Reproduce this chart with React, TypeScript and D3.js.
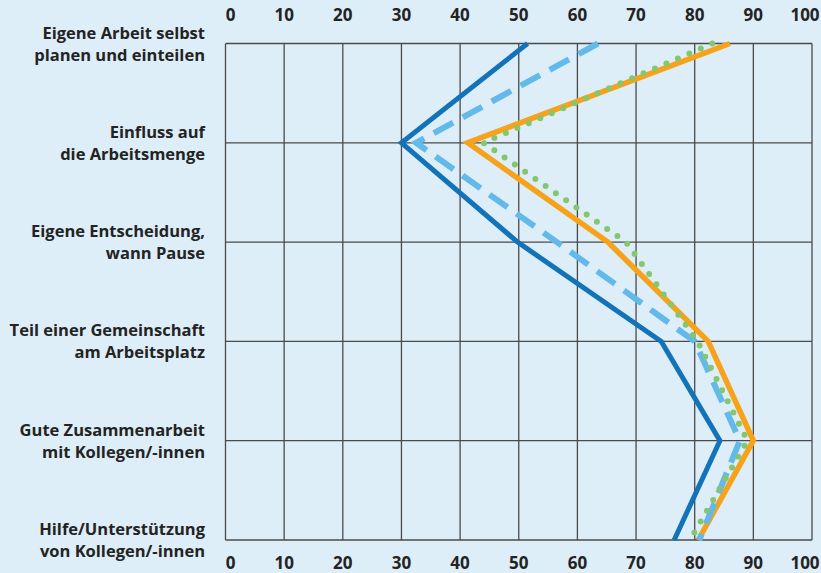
import React from 'react';
import * as d3 from 'd3';

// categories top to bottom, each label split into two lines
const categories = [
  ['Eigene Arbeit selbst', 'planen und einteilen'],
  ['Einfluss auf', 'die Arbeitsmenge'],
  ['Eigene Entscheidung,', 'wann Pause'],
  ['Teil einer Gemeinschaft', 'am Arbeitsplatz'],
  ['Gute Zusammenarbeit', 'mit Kollegen/-innen'],
  ['Hilfe/Unterstützung', 'von Kollegen/-innen'],
];

const seriesDarkBlue = [51.5, 30, 49.8, 74.3, 84.3, 76.5];
const seriesLightBlue = [63.5, 32.5, 56.5, 80, 87.7, 80.8];
const seriesOrange = [86, 41.3, 65.2, 82.3, 90, 80.6];
const seriesGreen = [83, 44, 68.3, 80.5, 89, 79.2];

const ticks = [0, 10, 20, 30, 40, 50, 60, 70, 80, 90, 100];

const W = 821;
const H = 573;
const FONT = '"Open Sans", Lato, sans-serif';
const TEXT = '#232323';

const App: React.FC = () => {
  const keys = categories.map((_, i) => String(i));
  const x = d3.scaleLinear().domain([0, 100]).range([225.5, 812]);
  const y = d3.scalePoint<string>().domain(keys).range([43.5, 540]);

  const line = d3.line<number>()
    .x(d => x(d))
    .y((_, i) => y(String(i)) as number);

  const series = [
    { values: seriesOrange, color: '#f7a21b', width: 5.5, dash: undefined, cap: 'butt' },
    { values: seriesDarkBlue, color: '#1273b9', width: 5, dash: undefined, cap: 'butt' },
    { values: seriesLightBlue, color: '#62b9ea', width: 6, dash: '22 11', cap: 'butt' },
    { values: seriesGreen, color: '#86c66f', width: 6, dash: '0 12.5', cap: 'round' },
  ];

  // first label sits just right of the axis start, last one is kept inside the picture
  const tickX = (t: number) => (t === 0 ? x(t) + 5 : Math.min(x(t), W - 16));

  return (
    <div style={{ position: 'fixed', left: 0, top: 0 }}>
      <svg width={W} height={H} style={{ display: 'block' }}>
        <rect width={W} height={H} fill="#ddeef8" />

        {/* grid */}
        {ticks.map(t => (
          <line key={'v' + t} x1={x(t)} x2={x(t)} y1={y('0')} y2={y(String(categories.length - 1))}
            stroke="#4a4a4a" strokeWidth={1.3} />
        ))}
        {keys.map(k => (
          <line key={'h' + k} x1={x(0)} x2={x(100)} y1={y(k)} y2={y(k)}
            stroke="#4a4a4a" strokeWidth={1.3} />
        ))}

        {/* axis labels top and bottom */}
        {ticks.map(t => (
          <g key={'t' + t} fontFamily={FONT} fontWeight={700} fontSize={17} fill={TEXT} textAnchor="middle">
            <text x={tickX(t)} y={21}>{t}</text>
            <text x={tickX(t)} y={569}>{t}</text>
          </g>
        ))}

        {/* category labels */}
        {categories.map((lines, i) => (
          <text key={'c' + i} x={205} y={(y(String(i)) as number) - 5} textAnchor="end"
            fontFamily={FONT} fontWeight={700} fontSize={16.5} fill={TEXT}>
            <tspan x={205}>{lines[0]}</tspan>
            <tspan x={205} dy={22}>{lines[1]}</tspan>
          </text>
        ))}

        {/* series lines */}
        {series.map((s, i) => (
          <path key={'s' + i} d={line(s.values) || ''} fill="none" stroke={s.color}
            strokeWidth={s.width} strokeDasharray={s.dash} strokeLinecap={s.cap as any}
            strokeLinejoin="miter" />
        ))}
      </svg>
    </div>
  );
};

export default App;
